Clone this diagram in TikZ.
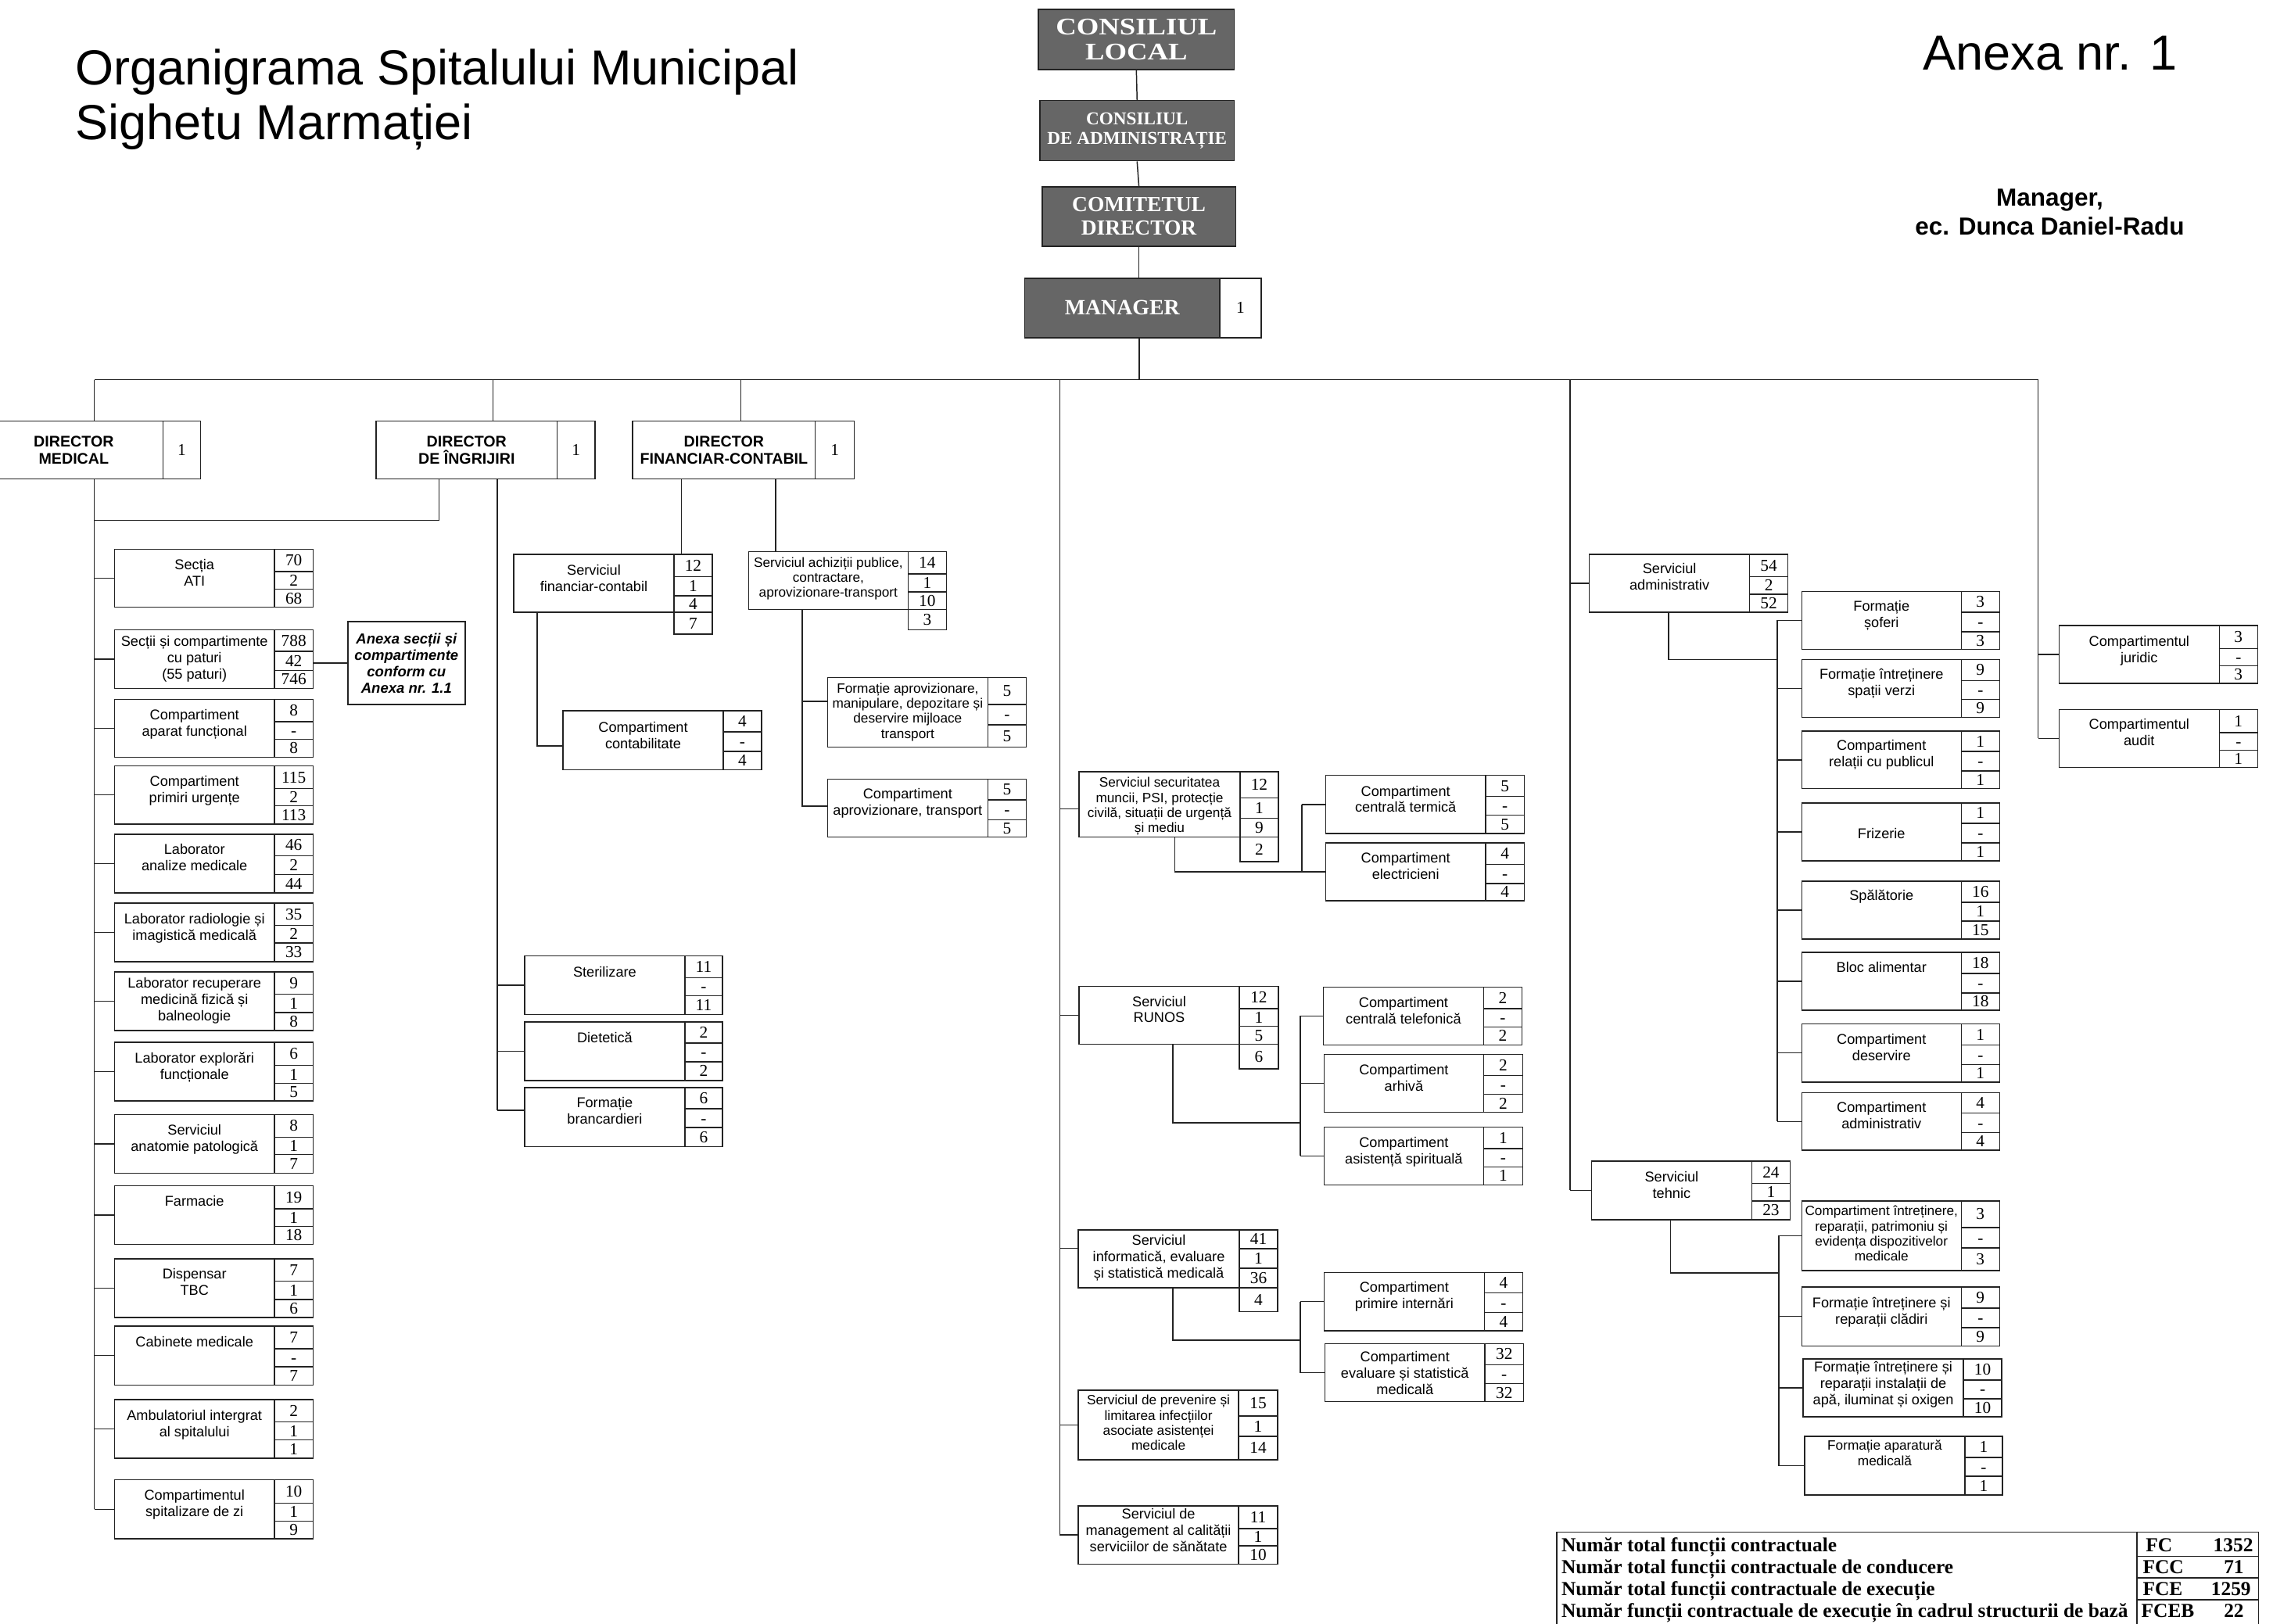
\documentclass[tikz,border=0pt]{standalone}
\usepackage{fontspec}
\setmainfont{Liberation Serif}
\setsansfont{Liberation Sans}
\usepackage{graphicx}
\usetikzlibrary{calc}
\definecolor{topfill}{RGB}{102,102,102}
\definecolor{ink}{RGB}{35,35,35}
\tikzset{
  ln/.style={draw=ink, line width=0.8pt},
  tbox/.style={draw=ink, line width=0.8pt, fill=white, inner sep=0pt},
  cbox/.style={draw=ink, line width=0.8pt, fill=white, inner sep=0pt, font=\fontsize{11.5}{12}\selectfont\rmfamily},
  txt/.style={inner sep=0pt, align=center, font=\fontsize{9.8}{11.3}\selectfont\sffamily},
  txts/.style={inner sep=0pt, align=center, font=\fontsize{9.3}{10.4}\selectfont\sffamily},
  topbox/.style={draw=ink, line width=0.8pt, fill=topfill, text=white, inner sep=0pt, align=center, anchor=north west},
  dbox/.style={draw=ink, line width=0.8pt, fill=white, inner sep=0pt, align=center, anchor=north west, font=\fontsize{10.6}{11.7}\selectfont\sffamily\bfseries},
  tabt/.style={inner sep=0pt, font=\fontsize{13.7}{15}\selectfont\rmfamily\bfseries},
}
\newcommand{\obBox}[5]{\node[tbox, anchor=north west, minimum width={(#4-(#2))*1pt}, minimum height={(#5-(#3))*1pt}] (#1) at (#2,#3) {};}
\newcommand{\obCell}[6]{\node[cbox, anchor=north west, minimum width={(#3-(#2))*1pt}, minimum height={(#5-(#4))*1pt}] (#1) at (#2,#4) {\vphantom{0}#6};}
\newcommand{\obText}[4][txt]{\node[#1, anchor=north] (#2-t) at ($(#2.north)+(0,#3-4.8)$) {\rule{0pt}{8pt}#4};}
\def\obThree#1#2#3#4#5#6#7#8#9{\obCell{#1-1}{#2}{#3}{#4}{#5}{#8}\obCell{#1-2}{#2}{#3}{#5}{#6}{#9}\obThreeB{#1}{#2}{#3}{#6}{#7}}
\def\obThreeB#1#2#3#4#5#6{\obCell{#1-3}{#2}{#3}{#4}{#5}{#6}}
\def\obFour#1#2#3#4#5#6#7#8#9{\obCell{#1-1}{#2}{#3}{#4}{#5}{#9}\obFourB{#1}{#2}{#3}{#5}{#6}{#7}{#8}}
\def\obFourB#1#2#3#4#5#6#7#8{\obCell{#1-2}{#2}{#3}{#4}{#5}{#8}\obFourC{#1}{#2}{#3}{#5}{#6}{#7}}
\def\obFourC#1#2#3#4#5#6#7#8{\obCell{#1-3}{#2}{#3}{#4}{#5}{#7}\obCell{#1-4}{#2}{#3}{#5}{#6}{#8}}
\begin{document}
\begin{tikzpicture}[x=1pt,y=-1pt]
\useasboundingbox (0,0) rectangle (1568,1120);
\fill[white] (0,0) rectangle (1568,1120);

% titles
\node[anchor=base west, inner sep=0pt, font=\fontsize{34}{38}\selectfont\sffamily] (title1) at (52,58.5) {Organigrama Spitalului Municipal};
\node[anchor=base west, inner sep=0pt, font=\fontsize{34}{38}\selectfont\sffamily] (title2) at (52,96.5) {Sighetu Marmației};
\node[anchor=base east, inner sep=0pt, font=\fontsize{34}{38}\selectfont\sffamily] (anexa) at (1502,48.5) {Anexa nr. 1};
\node[anchor=base, inner sep=0pt, font=\fontsize{17}{20}\selectfont\sffamily\bfseries] (mg1) at (1414,142) {Manager,};
\node[anchor=base, inner sep=0pt, font=\fontsize{17}{20}\selectfont\sffamily\bfseries] (mg2) at (1414,162) {ec. Dunca Daniel-Radu};

% top chain
\node[topbox, minimum width=135pt, minimum height=41.5pt, font=\fontsize{16.5}{17.4}\selectfont\rmfamily\bfseries] (cl) at (716,6) {\scalebox{1.2}[1]{CONSILIUL}\\\scalebox{1.2}[1]{LOCAL}};
\node[topbox, minimum width=134pt, minimum height=41.5pt, font=\fontsize{12.5}{13.5}\selectfont\rmfamily\bfseries] (ca) at (717,69) {CONSILIUL\\DE ADMINISTRAȚIE};
\node[topbox, minimum width=133.5pt, minimum height=41pt, font=\fontsize{14.8}{16.2}\selectfont\rmfamily\bfseries] (cd) at (718.5,128.5) {COMITETUL\\DIRECTOR};
\node[topbox, minimum width=134.5pt, minimum height=41pt, font=\fontsize{15}{16}\selectfont\rmfamily\bfseries] (mgr) at (706.5,191.5) {MANAGER};
\node[cbox, anchor=north west, minimum width=28.5pt, minimum height=41pt] (mgr-n) at (841,191.5) {1};

% directors
\node[dbox, minimum width=123pt, minimum height=40pt] (dm) at (-11,290) {DIRECTOR\\MEDICAL};
\node[cbox, anchor=north west, minimum width=26pt, minimum height=40pt] (dm-n) at (112,290) {1};
\node[dbox, minimum width=125pt, minimum height=40pt] (di) at (259,290) {DIRECTOR\\DE ÎNGRIJIRI};
\node[cbox, anchor=north west, minimum width=26pt, minimum height=40pt] (di-n) at (384,290) {1};
\node[dbox, minimum width=126pt, minimum height=40pt] (df) at (436,290) {DIRECTOR\\FINANCIAR-CONTABIL};
\node[cbox, anchor=north west, minimum width=27pt, minimum height=40pt] (df-n) at (562,290) {1};

% left column
\obBox{ati}{78.5}{378.5}{189}{418.5}\obThree{ati}{189}{215.5}{378.5}{394}{406}{418.5}{70}{2}{68}\obText{ati}{11}{Secția\\ATI}
\obBox{scp}{78.5}{434}{189}{474.5}\obThree{scp}{189}{215.5}{434}{449}{462}{474.5}{788}{42}{746}\obText{scp}{8.4}{Secții și compartimente\\cu paturi\\(55 paturi)}
\obBox{caf}{78.5}{482}{189}{522}\obThree{caf}{189}{215.5}{482}{497.5}{509.5}{522}{8}{-}{8}\obText{caf}{11}{Compartiment\\aparat funcțional}
\obBox{cpu}{78.5}{528}{189}{568}\obThree{cpu}{189}{215.5}{528}{543.5}{555.5}{568}{115}{2}{113}\obText{cpu}{11}{Compartiment\\primiri urgențe}
\obBox{lam}{78.5}{575}{189}{615.5}\obThree{lam}{189}{215.5}{575}{590}{603}{615.5}{46}{2}{44}\obText{lam}{11}{Laborator\\analize medicale}
\obBox{lri}{78.5}{622.5}{189}{663}\obThree{lri}{189}{215.5}{622.5}{638}{650}{663}{35}{2}{33}\obText{lri}{11.5}{Laborator radiologie și\\imagistică medicală}
\obBox{lrm}{78.5}{670}{189}{710.5}\obThree{lrm}{189}{215.5}{670}{685.5}{698}{710.5}{9}{1}{8}\obText{lrm}{8.3}{Laborator recuperare\\medicină fizică și\\balneologie}
\obBox{lef}{78.5}{718.5}{189}{759}\obThree{lef}{189}{215.5}{718.5}{734.5}{747}{759}{6}{1}{5}\obText{lef}{11.5}{Laborator explorări\\funcționale}
\obBox{sapt}{78.5}{768.5}{189}{809}\obThree{sapt}{189}{215.5}{768.5}{784}{796}{809}{8}{1}{7}\obText{sapt}{11}{Serviciul\\anatomie patologică}
\obBox{far}{78.5}{817.5}{189}{858}\obThree{far}{189}{215.5}{817.5}{833.5}{845.5}{858}{19}{1}{18}\obText{far}{11}{Farmacie}
\obBox{tbc}{78.5}{868}{189}{908.5}\obThree{tbc}{189}{215.5}{868}{883.5}{896}{908.5}{7}{1}{6}\obText{tbc}{11}{Dispensar\\TBC}
\obBox{cab}{78.5}{914.5}{189}{955}\obThree{cab}{189}{215.5}{914.5}{930}{942.5}{955}{7}{-}{7}\obText{cab}{11.3}{Cabinete medicale}
\obBox{amb}{78.5}{965}{189}{1005.5}\obThree{amb}{189}{215.5}{965}{980.5}{993}{1005.5}{2}{1}{1}\obText{amb}{11.3}{Ambulatoriul intergrat\\al spitalului}
\obBox{spz}{78.5}{1020.5}{189}{1061}\obThree{spz}{189}{215.5}{1020.5}{1036.5}{1049}{1061}{10}{1}{9}\obText{spz}{11}{Compartimentul\\spitalizare de zi}

\node[tbox, anchor=north west, minimum width=81pt, minimum height=57pt, align=center, font=\fontsize{10}{11.3}\selectfont\sffamily\bfseries\itshape] (anx) at (239.5,428.5) {Anexa secții și\\compartimente\\conform cu\\Anexa nr. 1.1};

% director de ingrijiri children
\obBox{ster}{361.5}{659}{472}{699.5}\obThree{ster}{472}{498}{659}{674}{686.5}{699.5}{11}{-}{11}\obText{ster}{11.6}{Sterilizare}
\obBox{diet}{361.5}{704.5}{472}{745}\obThree{diet}{472}{498}{704.5}{719}{732}{745}{2}{-}{2}\obText{diet}{11.5}{Dietetică}
\obBox{brc}{361.5}{750}{472}{790.5}\obThree{brc}{472}{498}{750}{764.5}{777.5}{790.5}{6}{-}{6}\obText{brc}{10.5}{Formație\\brancardieri}

% financiar
\obBox{sfc}{354}{382}{464.5}{422}\obFour{sfc}{464.5}{491}{382}{397.5}{410.5}{422}{437}{12}{1}{4}{7}\obText{sfc}{11.4}{Serviciul\\financiar-contabil}
\obBox{cct}{388}{490}{498.5}{530.5}\obThree{cct}{498.5}{525}{490}{504.5}{518}{530.5}{4}{-}{4}\obText{cct}{11.6}{Compartiment\\contabilitate}
\obBox{sac}{516}{380}{626}{420}\obFour{sac}{626}{652.5}{380}{395.5}{408}{420}{434}{14}{1}{10}{3}\obText[txts]{sac}{7.8}{Serviciul achiziții publice,\\contractare,\\aprovizionare-transport}
\obBox{fap}{570.5}{467}{681}{515}\obThree{fap}{681}{707.5}{467}{485.5}{499.5}{515}{5}{-}{5}\obText[txts]{fap}{7.7}{Formație aprovizionare,\\manipulare, depozitare și\\deservire mijloace\\transport}
\obBox{cat}{570.5}{537}{681}{577}\obThree{cat}{681}{707.5}{537}{551.5}{565}{577}{5}{-}{5}\obText{cat}{10.8}{Compartiment\\aprovizionare, transport}

% center column
\obBox{ssm}{744}{532}{855}{577}\obFour{ssm}{855}{881.5}{532}{550}{564}{577}{594}{12}{1}{9}{2}\obText[txts]{ssm}{7.7}{Serviciul securitatea\\muncii, PSI, protecție\\civilă, situații de urgență\\și mediu}
\obBox{cte}{914}{534.5}{1024.5}{574.5}\obThree{cte}{1024.5}{1051}{534.5}{549}{562}{574.5}{5}{-}{5}\obText{cte}{11.2}{Compartiment\\centrală termică}
\obBox{cel}{914}{581}{1024.5}{621}\obThree{cel}{1024.5}{1051}{581}{596}{609}{621}{4}{-}{4}\obText{cel}{11}{Compartiment\\electricieni}
\obBox{runos}{744}{680}{854.5}{720}\obFour{runos}{854.5}{881.5}{680}{695.5}{707.5}{720}{737}{12}{1}{5}{6}\obText{runos}{10.8}{Serviciul\\RUNOS}
\obBox{ctel}{912.5}{680.5}{1023}{720.5}\obThree{ctel}{1023}{1049.5}{680.5}{695.5}{708}{720.5}{2}{-}{2}\obText{ctel}{11}{Compartiment\\centrală telefonică}
\obBox{arh}{913}{727}{1023}{767}\obThree{arh}{1023}{1050}{727}{741.5}{754.5}{767}{2}{-}{2}\obText{arh}{11}{Compartiment\\arhivă}
\obBox{asp}{913}{777}{1023}{817}\obThree{asp}{1023}{1050}{777}{792}{804.5}{817}{1}{-}{1}\obText{asp}{11}{Compartiment\\asistență spirituală}
\obBox{inf}{743.5}{848}{854.5}{888}\obFour{inf}{854.5}{881}{848}{861}{874.5}{888}{904.5}{41}{1}{36}{4}\obText{inf}{7.8}{Serviciul\\informatică, evaluare\\și statistică medicală}
\obBox{cpi}{913}{877.5}{1023.5}{917.5}\obThree{cpi}{1023.5}{1050}{877.5}{891.5}{905}{917.5}{4}{-}{4}\obText{cpi}{10.6}{Compartiment\\primire internări}
\obBox{ces}{913.5}{926.5}{1024}{966.5}\obThree{ces}{1024}{1050.5}{926.5}{941}{954}{966.5}{32}{-}{32}\obText{ces}{9.3}{Compartiment\\evaluare și statistică\\medicală}
\obBox{spv}{743.5}{958.5}{854}{1006.5}\obThree{spv}{854}{881}{958.5}{976.5}{990.5}{1006.5}{15}{1}{14}\obText[txts]{spv}{7.3}{Serviciul de prevenire și\\limitarea infecțiilor\\asociate asistenței\\medicale}
\obBox{smc}{743.5}{1038.5}{854}{1078.5}\obThree{smc}{854}{881}{1038.5}{1054}{1066}{1078.5}{11}{1}{10}\obText{smc}{5.7}{Serviciul de\\management al calității\\serviciilor de sănătate}

% right column
\obBox{sadm}{1096}{382}{1206.5}{422}\obThree{sadm}{1206.5}{1233}{382}{397.5}{409.5}{422}{54}{2}{52}\obText{sadm}{10.3}{Serviciul\\administrativ}
\obBox{fso}{1242.5}{407.5}{1352.5}{447.5}\obThree{fso}{1352.5}{1379}{407.5}{422}{435.5}{447.5}{3}{-}{3}\obText{fso}{10.8}{Formație\\șoferi}
\obBox{fsv}{1242.5}{454.5}{1352.5}{494.5}\obThree{fsv}{1352.5}{1379}{454.5}{469}{482}{494.5}{9}{-}{9}\obText{fsv}{10.7}{Formație întreținere\\spații verzi}
\obBox{crp}{1242.5}{504}{1352.5}{543.5}\obThree{crp}{1352.5}{1379}{504}{518}{531.5}{543.5}{1}{-}{1}\obText{crp}{10.3}{Compartiment\\relații cu publicul}
\obBox{friz}{1242.5}{553.5}{1352.5}{593.5}\obThree{friz}{1352.5}{1379}{553.5}{567.5}{581}{593.5}{1}{-}{1}\obText{friz}{21.5}{Frizerie}
\obBox{spal}{1242.5}{607.5}{1352.5}{647.5}\obThree{spal}{1352.5}{1379}{607.5}{622}{635}{647.5}{16}{1}{15}\obText{spal}{10.3}{Spălătorie}
\obBox{bloc}{1242.5}{656.5}{1352.5}{696.5}\obThree{bloc}{1352.5}{1379}{656.5}{671}{684.5}{696.5}{18}{-}{18}\obText{bloc}{11}{Bloc alimentar}
\obBox{cdes}{1242.5}{706}{1352.5}{746}\obThree{cdes}{1352.5}{1379}{706}{720.5}{734}{746}{1}{-}{1}\obText{cdes}{11.2}{Compartiment\\deservire}
\obBox{cadm}{1242.5}{753.5}{1352.5}{793}\obThree{cadm}{1352.5}{1379}{753.5}{767.5}{781}{793}{4}{-}{4}\obText{cadm}{10.6}{Compartiment\\administrativ}
\obBox{steh}{1097.5}{800.5}{1208}{841}\obThree{steh}{1208}{1234.5}{800.5}{816}{828}{841}{24}{1}{23}\obText{steh}{11.3}{Serviciul\\tehnic}
\obBox{cirp}{1242.5}{828}{1352.5}{876}\obThree{cirp}{1352.5}{1379}{828}{846.5}{860.5}{876}{3}{-}{3}\obText[txts]{cirp}{7.2}{Compartiment întreținere,\\reparații, patrimoniu și\\evidența dispozitivelor\\medicale}
\obBox{fic}{1242.5}{887.5}{1352.5}{928}\obThree{fic}{1352.5}{1379}{887.5}{902}{915.5}{928}{9}{-}{9}\obText{fic}{11}{Formație întreținere și\\reparații clădiri}
\obBox{fii}{1243.5}{937}{1354}{977}\obThree{fii}{1354}{1380.5}{937}{951.5}{964.5}{977}{10}{-}{10}\obText{fii}{6}{Formație întreținere și\\reparații instalații de\\apă, iluminat și oxigen}
\obBox{fam}{1244.5}{990.5}{1355}{1031}\obThree{fam}{1355}{1381}{990.5}{1005}{1018}{1031}{1}{-}{1}\obText[txts]{fam}{6.5}{Formație aparatură\\medicală}

% far right
\obBox{cju}{1420}{431}{1530.5}{471}\obThree{cju}{1530.5}{1557}{431}{447}{459}{471}{3}{-}{3}\obText{cju}{11.3}{Compartimentul\\juridic}
\obBox{cau}{1420}{489}{1530.5}{529}\obThree{cau}{1530.5}{1557}{489}{505}{517}{529}{1}{-}{1}\obText{cau}{10.8}{Compartimentul\\audit}

% ---------- connectors ----------
\coordinate (busL) at (65,262);
\coordinate (busR) at (1406,262);
\coordinate (xMg) at (786,0);
\coordinate (xM) at (65,0);
\coordinate (xI) at (340,0);
\coordinate (xI2) at (303,0);
\coordinate (xI3) at (343,0);
\coordinate (xF) at (511,0);
\coordinate (xF1) at (470,0);
\coordinate (xF2) at (535,0);
\coordinate (xF3) at (370.5,0);
\coordinate (xF4) at (553.5,0);
\coordinate (xC) at (731,0);
\coordinate (xS1) at (810.5,0);
\coordinate (xS2) at (898,0);
\coordinate (xR1) at (809,0);
\coordinate (xR2) at (897,0);
\coordinate (xA) at (1083,0);
\coordinate (xA1) at (1151,0);
\coordinate (xA2) at (1226,0);
\coordinate (xT1) at (1152.5,0);
\coordinate (xT2) at (1227,0);
\coordinate (xJ) at (1406,0);

\draw[ln] (busL) -- (busR);
\draw[ln] (cl.south) -- (ca.north);
\draw[ln] (ca.south) -- (cd.north);
\draw[ln] (cd.south) -- (cd.south |- mgr.north);
\draw[ln] (xMg |- mgr.south) -- (xMg |- busL);

% director medical
\draw[ln] (xM |- busL) -- (xM |- dm.north);
\draw[ln] (xM |- dm.south) -- (xM |- spz.west);
\foreach \bx in {ati,scp,caf,cpu,lam,lri,lrm,lef,sapt,far,tbc,cab,amb,spz}
  \draw[ln] (xM |- \bx.west) -- (\bx.west);
\draw[ln] (anx.west -| scp-2.east) -- (anx.west);

% director ingrijiri
\coordinate (jI) at (65,359);
\coordinate (bJ) at (343,766);
\draw[ln] (xI |- busL) -- (xI |- di.north);
\draw[ln] (xI2 |- di.south) |- (jI);
\draw[ln] (xI3 |- di.south) -- (bJ);
\draw[ln] (xI3 |- ster.west) -- (ster.west);
\draw[ln] (xI3 |- diet.west) -- (diet.west);
\draw[ln] (bJ) -- (bJ -| brc.west);

% director financiar
\coordinate (jF3) at (370.5,514.5);
\coordinate (jF4a) at (553.5,483.7);
\coordinate (jF4b) at (553.5,556);
\draw[ln] (xF |- busL) -- (xF |- df.north);
\draw[ln] (xF1 |- df.south) -- (xF1 |- sfc.north);
\draw[ln] (xF2 |- df.south) -- (xF2 |- sac.north);
\draw[ln] (xF3 |- sfc.south) -- (jF3) -- (jF3 -| cct.west);
\draw[ln] (xF4 |- sac.south) -- (jF4b) -- (jF4b -| cat.west);
\draw[ln] (jF4a) -- (jF4a -| fap.west);

% center column
\coordinate (jC1) at (731,558);
\coordinate (jC3) at (731,861);
\draw[ln] (xC |- busL) -- (xC |- smc.west);
\draw[ln] (jC1) -- (jC1 -| ssm.west);
\draw[ln] (jC3) -- (jC3 -| inf.west);
\foreach \bx in {runos,spv,smc}
  \draw[ln] (xC |- \bx.west) -- (\bx.west);
\coordinate (jS) at (898,601.5);
\draw[ln] (xS1 |- ssm.south) |- (jS);
\draw[ln] (xS2 |- cte.west) -- (jS);
\draw[ln] (xS2 |- cte.west) -- (cte.west);
\draw[ln] (jS) -- (jS -| cel.west);
\coordinate (jR) at (897,774.5);
\draw[ln] (xR1 |- runos.south) |- (jR);
\draw[ln] (xR2 |- ctel.west) -- (xR2 |- asp.west);
\foreach \bx in {ctel,arh,asp}
  \draw[ln] (xR2 |- \bx.west) -- (\bx.west);
\coordinate (jN) at (897,924.5);
\draw[ln] (xR1 |- inf.south) |- (jN);
\draw[ln] (xR2 |- cpi.west) -- (xR2 |- ces.west);
\foreach \bx in {cpi,ces}
  \draw[ln] (xR2 |- \bx.west) -- (\bx.west);

% right column
\draw[ln] (xA |- busL) -- (xA |- steh.west);
\foreach \bx in {sadm,steh}
  \draw[ln] (xA |- \bx.west) -- (\bx.west);
\coordinate (jA) at (1226,455);
\draw[ln] (xA1 |- sadm.south) |- (jA);
\draw[ln] (xA2 |- fso.west) -- (xA2 |- cadm.west);
\foreach \bx in {fso,fsv,crp,friz,spal,bloc,cdes,cadm}
  \draw[ln] (xA2 |- \bx.west) -- (\bx.west);
\coordinate (jT) at (1227,878);
\draw[ln] (xT1 |- steh.south) |- (jT);
\draw[ln] (xT2 |- cirp.west) -- (xT2 |- fam.west);
\foreach \bx in {cirp,fic,fii,fam}
  \draw[ln] (xT2 |- \bx.west) -- (\bx.west);

% far right
\draw[ln] (xJ |- busL) -- (xJ |- cau.west);
\foreach \bx in {cju,cau}
  \draw[ln] (xJ |- \bx.west) -- (\bx.west);

% ---------- totals table ----------
\node[tbox, anchor=north west, minimum width=484pt, minimum height=72pt] (tbl) at (1073.5,1056.5) {};
\draw[ln] (1474,1056.5) -- (1474,1130);
\draw[ln] (1474,1073.5) -- (1557.5,1073.5);
\draw[ln] (1474,1088.5) -- (1557.5,1088.5);
\draw[ln] (1474,1103.5) -- (1557.5,1103.5);
\node[tabt, anchor=base west] (r1) at (1077,1070.5) {Număr total funcții contractuale};
\node[tabt, anchor=base west] (r2) at (1077,1085.5) {Număr total funcții contractuale de conducere};
\node[tabt, anchor=base west] (r3) at (1077,1100.5) {Număr total funcții contractuale de execuție};
\node[tabt, anchor=base west] (r4) at (1077,1115.5) {Număr funcții contractuale de execuție în cadrul structurii de bază};
\node[tabt, anchor=base west] (l1) at (1480,1070.5) {FC};
\node[tabt, anchor=base west] (l2) at (1478,1085.5) {FCC};
\node[tabt, anchor=base west] (l3) at (1478,1100.5) {FCE};
\node[tabt, anchor=base west] (l4) at (1477,1115.5) {FCEB};
\node[tabt, anchor=base] (v1) at (1540.5,1070.5) {1352};
\node[tabt, anchor=base] (v2) at (1541,1085.5) {71};
\node[tabt, anchor=base] (v3) at (1539,1100.5) {1259};
\node[tabt, anchor=base] (v4) at (1541,1115.5) {22};
\end{tikzpicture}
\end{document}
